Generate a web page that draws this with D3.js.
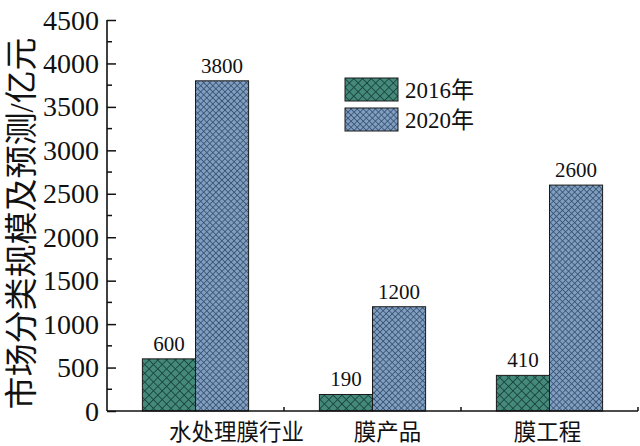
<!DOCTYPE html>
<html>
<head>
<meta charset="utf-8">
<script src="https://cdn.jsdelivr.net/npm/d3@7"></script>
<style>
  html, body { margin: 0; padding: 0; background: #fff; }
  svg { display: block; }
</style>
</head>
<body>
<svg id="chart" width="640" height="446"></svg>
<script>
const categories = ["水处理膜行业", "膜产品", "膜工程"];
const seriesNames = ["2016年", "2020年"];
const values2016 = [600, 190, 410];
const values2020 = [3800, 1200, 2600];
const yTicks = [0, 500, 1000, 1500, 2000, 2500, 3000, 3500, 4000, 4500];
const yTitle = "市场分类规模及预测/亿元";

const seriesValues = [values2016, values2020];
const serif = "'Liberation Serif', 'Times New Roman', 'Noto Sans CJK SC', serif";

const svg = d3.select("#chart");
const W = 640, H = 446;
const m = { left: 107, right: 2, top: 20, bottom: 35 };

const x = d3.scaleBand().domain(categories).range([m.left, W - m.right]).padding(0);
const y = d3.scaleLinear().domain([0, 4500]).range([H - m.bottom, m.top]);
const groupW = x.bandwidth() * 0.6;
const xs = d3.scaleBand().domain(seriesNames).range([0, groupW]).padding(0);

// patterns
const defs = svg.append("defs");
const pats = [
  { id: "p2016", size: 6.2, bg: "#44897a", fg: "#18433c", sw: 1.7 },
  { id: "p2020", size: 4.3, bg: "#819dbf", fg: "#314d6d", sw: 1.5 }
];
pats.forEach(p => {
  const pat = defs.append("pattern")
    .attr("id", p.id).attr("patternUnits", "userSpaceOnUse")
    .attr("width", p.size).attr("height", p.size)
    .attr("patternTransform", "rotate(45)");
  pat.append("rect").attr("width", p.size).attr("height", p.size).attr("fill", p.bg);
  pat.append("line").attr("x1", 0).attr("y1", 0).attr("x2", p.size).attr("y2", 0)
    .attr("stroke", p.fg).attr("stroke-width", p.sw);
  pat.append("line").attr("x1", 0).attr("y1", 0).attr("x2", 0).attr("y2", p.size)
    .attr("stroke", p.fg).attr("stroke-width", p.sw);
});
const fills = ["url(#p2016)", "url(#p2020)"];

// bars
seriesNames.forEach((s, si) => {
  const g = svg.append("g");
  g.selectAll("rect").data(categories).join("rect")
    .attr("x", d => x(d) + x.bandwidth() / 2 - groupW / 2 + xs(s))
    .attr("y", (d, i) => y(seriesValues[si][i]))
    .attr("width", xs.bandwidth())
    .attr("height", (d, i) => y(0) - y(seriesValues[si][i]))
    .attr("fill", fills[si])
    .attr("stroke", "#1a1a1a").attr("stroke-width", 1);
  g.selectAll("text").data(categories).join("text")
    .attr("x", d => x(d) + x.bandwidth() / 2 - groupW / 2 + xs(s) + xs.bandwidth() / 2)
    .attr("y", (d, i) => y(seriesValues[si][i]) - 8)
    .attr("text-anchor", "middle")
    .attr("font-family", serif).attr("font-size", 21).attr("fill", "#111")
    .text((d, i) => seriesValues[si][i]);
});

// y axis
const yAxis = d3.axisRight(y).tickValues(yTicks).tickSize(9).tickFormat("");
const yg = svg.append("g").attr("transform", `translate(${m.left},0)`).call(yAxis);
yg.select(".domain").remove();
yg.selectAll("line").attr("stroke", "#111").attr("stroke-width", 1.5);
const minor = d3.range(250, 4500, 500);
svg.append("g").selectAll("line").data(minor).join("line")
  .attr("x1", m.left).attr("x2", m.left + 5)
  .attr("y1", d => y(d)).attr("y2", d => y(d))
  .attr("stroke", "#111").attr("stroke-width", 1.5);
svg.append("line").attr("x1", m.left).attr("x2", m.left)
  .attr("y1", y(4500)).attr("y2", y(0)).attr("stroke", "#111").attr("stroke-width", 1.6);
svg.append("g").selectAll("text").data(yTicks).join("text")
  .attr("x", m.left - 8).attr("y", d => y(d) + 9.5)
  .attr("text-anchor", "end")
  .attr("font-family", serif).attr("font-size", 28).attr("fill", "#111")
  .text(d => d);

// x axis
svg.append("line").attr("x1", m.left).attr("x2", W - m.right)
  .attr("y1", y(0)).attr("y2", y(0)).attr("stroke", "#111").attr("stroke-width", 1.6);
svg.append("g").selectAll("line").data(categories).join("line")
  .attr("x1", d => x(d) + x.bandwidth()).attr("x2", d => x(d) + x.bandwidth())
  .attr("y1", y(0)).attr("y2", y(0) - 4)
  .attr("stroke", "#111").attr("stroke-width", 1.5);
const labelNudge = [41, 15, -2];
svg.append("g").selectAll("text").data(categories).join("text")
  .attr("x", (d, i) => x(d) + x.bandwidth() / 2 + labelNudge[i])
  .attr("y", H - 6)
  .attr("text-anchor", "middle")
  .attr("font-family", serif).attr("font-size", 22.5).attr("fill", "#111")
  .text(d => d);

// y title
svg.append("text")
  .attr("transform", `translate(33,${(m.top + H - m.bottom) / 2 + 8}) rotate(-90)`)
  .attr("text-anchor", "middle")
  .attr("font-family", serif).attr("font-size", 33).attr("fill", "#111")
  .text(yTitle);

// legend
const lg = svg.append("g").attr("transform", "translate(345,78)");
seriesNames.forEach((s, i) => {
  lg.append("rect").attr("x", 0).attr("y", i * 30).attr("width", 53).attr("height", 23)
    .attr("fill", fills[i]).attr("stroke", "#1a1a1a").attr("stroke-width", 1);
  lg.append("text").attr("x", 60).attr("y", i * 30 + 20)
    .attr("font-family", serif).attr("font-size", 23).attr("fill", "#111")
    .text(s);
});
</script>
</body>
</html>
